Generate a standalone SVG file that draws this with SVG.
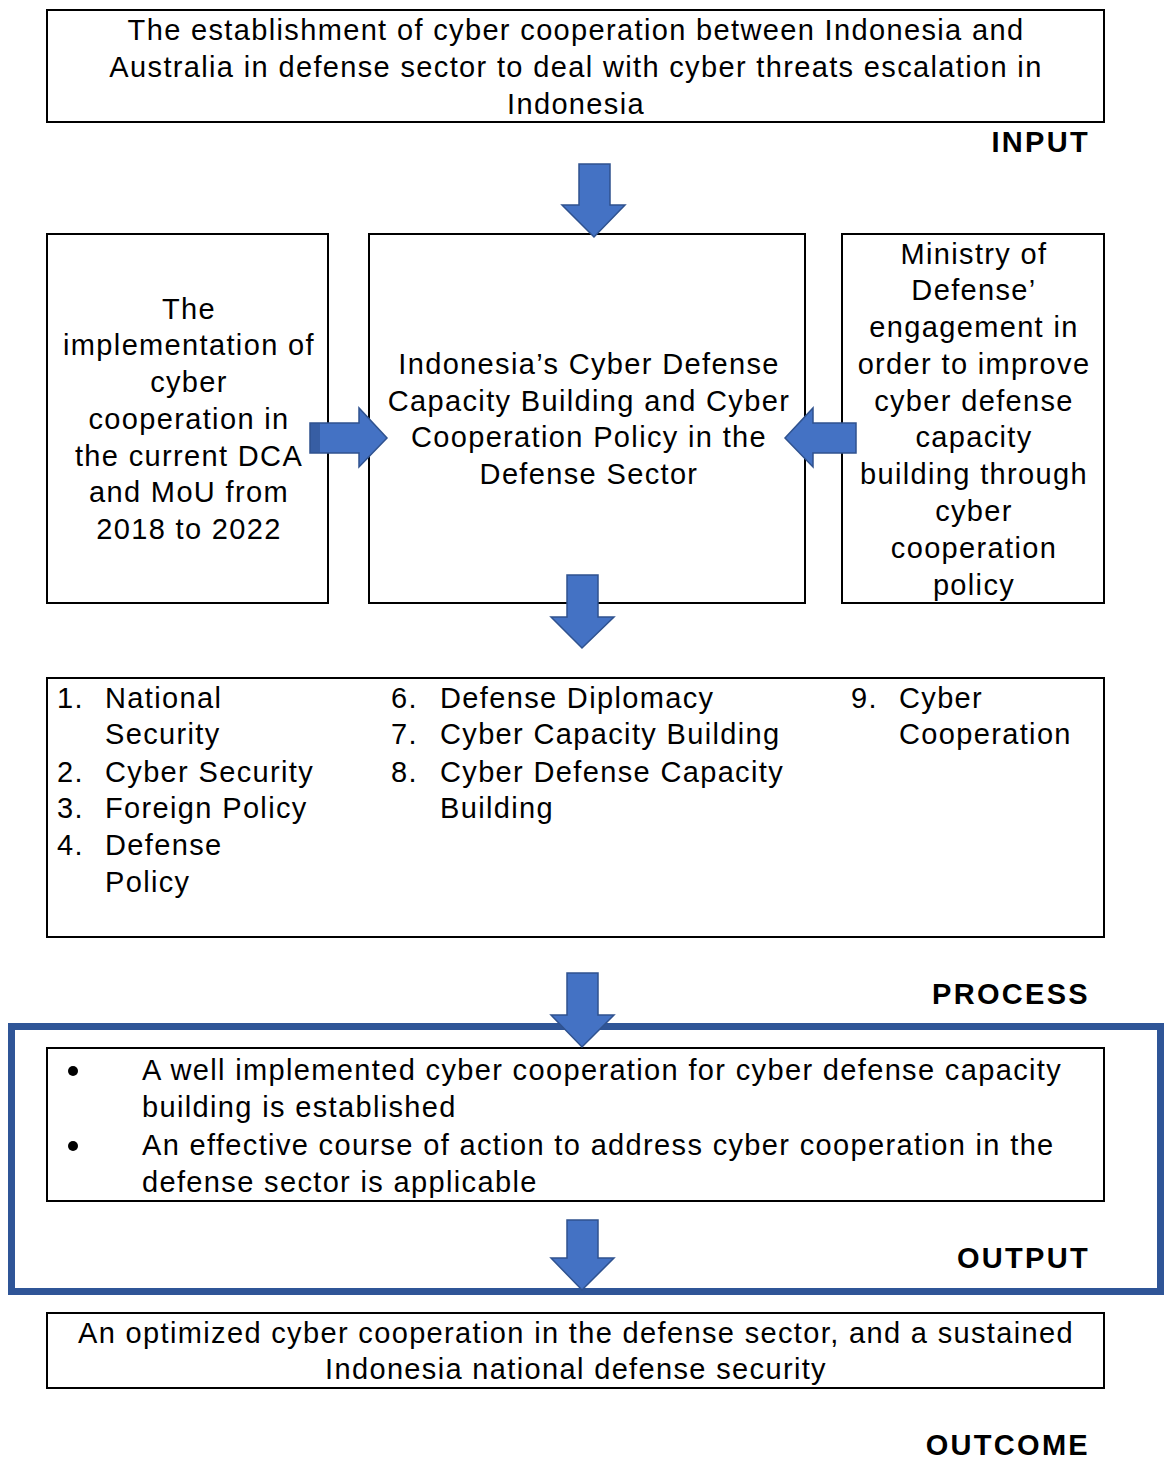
<svg xmlns="http://www.w3.org/2000/svg" width="1164" height="1459" viewBox="0 0 1164 1459">
  <style>
    .box { fill: #ffffff; stroke: #000000; stroke-width: 2; }
    .t { font-family: "Liberation Sans", Arial, sans-serif; font-size: 29px; letter-spacing: 1.35px; fill: #000000; }
    .c { text-anchor: middle; }
    .lbl { font-family: "Liberation Sans", Arial, sans-serif; font-size: 29px; letter-spacing: 2.3px; font-weight: bold; text-anchor: end; fill: #000000; }
    .arrow { fill: #4472C4; stroke: #2F528F; stroke-width: 1.5; stroke-linejoin: miter; }
    .frame { fill: none; stroke: #2F5597; stroke-width: 7; }
  </style>
  <rect width="1164" height="1459" fill="#ffffff"/>

  <!-- stage frame around process/output section -->
  <rect class="frame" x="11.5" y="1026.5" width="1149" height="265"/>

  <g id="input-box">
    <rect class="box" x="47" y="10" width="1057" height="112"/>
    <text class="t c" x="576" y="40">The establishment of cyber cooperation between Indonesia and</text>
    <text class="t c" x="576" y="77">Australia in defense sector to deal with cyber threats escalation in</text>
    <text class="t c" x="576" y="114">Indonesia</text>
  </g>

  <g id="dca-box">
    <rect class="box" x="47" y="234" width="281" height="369"/>
    <text class="t c" x="189" y="319">The</text>
    <text class="t c" x="189" y="355">implementation of</text>
    <text class="t c" x="189" y="392">cyber</text>
    <text class="t c" x="189" y="429">cooperation in</text>
    <text class="t c" x="189" y="466">the current DCA</text>
    <text class="t c" x="189" y="502">and MoU from</text>
    <text class="t c" x="189" y="539">2018 to 2022</text>
  </g>

  <g id="policy-box">
    <rect class="box" x="369" y="234" width="436" height="369"/>
    <text class="t c" x="589" y="374">Indonesia’s Cyber Defense</text>
    <text class="t c" x="589" y="411">Capacity Building and Cyber</text>
    <text class="t c" x="589" y="447">Cooperation Policy in the</text>
    <text class="t c" x="589" y="484">Defense Sector</text>
  </g>

  <g id="ministry-box">
    <rect class="box" x="842" y="234" width="262" height="369"/>
    <text class="t c" x="974" y="264">Ministry of</text>
    <text class="t c" x="974" y="300">Defense’</text>
    <text class="t c" x="974" y="337">engagement in</text>
    <text class="t c" x="974" y="374">order to improve</text>
    <text class="t c" x="974" y="411">cyber defense</text>
    <text class="t c" x="974" y="447">capacity</text>
    <text class="t c" x="974" y="484">building through</text>
    <text class="t c" x="974" y="521">cyber</text>
    <text class="t c" x="974" y="558">cooperation</text>
    <text class="t c" x="974" y="595">policy</text>
  </g>

  <g id="concepts-box">
    <rect class="box" x="47" y="678" width="1057" height="259"/>
    <text class="t" x="57" y="708">1.</text><text class="t" x="105" y="708">National</text>
    <text class="t" x="105" y="744">Security</text>
    <text class="t" x="57" y="782">2.</text><text class="t" x="105" y="782">Cyber Security</text>
    <text class="t" x="57" y="818">3.</text><text class="t" x="105" y="818">Foreign Policy</text>
    <text class="t" x="57" y="855">4.</text><text class="t" x="105" y="855">Defense</text>
    <text class="t" x="105" y="892">Policy</text>
    <text class="t" x="391" y="708">6.</text><text class="t" x="440" y="708">Defense Diplomacy</text>
    <text class="t" x="391" y="744">7.</text><text class="t" x="440" y="744">Cyber Capacity Building</text>
    <text class="t" x="391" y="782">8.</text><text class="t" x="440" y="782">Cyber Defense Capacity</text>
    <text class="t" x="440" y="818">Building</text>
    <text class="t" x="851" y="708">9.</text><text class="t" x="899" y="708">Cyber</text>
    <text class="t" x="899" y="744">Cooperation</text>
  </g>

  <g id="output-box">
    <rect class="box" x="47" y="1048" width="1057" height="153"/>
    <circle cx="73" cy="1071" r="5" fill="#000000"/>
    <text class="t" x="142" y="1080">A well implemented cyber cooperation for cyber defense capacity</text>
    <text class="t" x="142" y="1117">building is established</text>
    <circle cx="73" cy="1146" r="5" fill="#000000"/>
    <text class="t" x="142" y="1155">An effective course of action to address cyber cooperation in the</text>
    <text class="t" x="142" y="1192">defense sector is applicable</text>
  </g>

  <g id="outcome-box">
    <rect class="box" x="47" y="1313" width="1057" height="75"/>
    <text class="t c" x="576" y="1343">An optimized cyber cooperation in the defense sector, and a sustained</text>
    <text class="t c" x="576" y="1379">Indonesia national defense security</text>
  </g>

  <g id="stage-labels">
    <text class="lbl" x="1090" y="152">INPUT</text>
    <text class="lbl" x="1090" y="1004">PROCESS</text>
    <text class="lbl" x="1090" y="1268">OUTPUT</text>
    <text class="lbl" x="1090" y="1455">OUTCOME</text>
  </g>

  <g id="connectors">
    <!-- input to policy -->
    <path class="arrow" d="M579,164 H610 V205 H625 L594,237 L562,205 H579 Z"/>
    <!-- DCA to policy -->
    <path class="arrow" d="M310,423 H359 V408 L387,438 L359,467 V453 H310 Z"/>
    <rect x="310" y="423" width="10" height="30" fill="#2F528F" opacity="0.6"/>
    <!-- ministry to policy -->
    <path class="arrow" d="M856,423 H813 V408 L785,438 L813,467 V453 H856 Z"/>
    <!-- policy to concepts -->
    <path class="arrow" d="M567,575 H598 V617 H614 L582,648 L551,617 H567 Z"/>
    <!-- concepts to output -->
    <path class="arrow" d="M567,973 H598 V1015 H614 L582,1047 L551,1015 H567 Z"/>
    <!-- output to outcome -->
    <path class="arrow" d="M567,1220 H598 V1258 H614 L582,1290 L551,1258 H567 Z"/>
  </g>
</svg>
